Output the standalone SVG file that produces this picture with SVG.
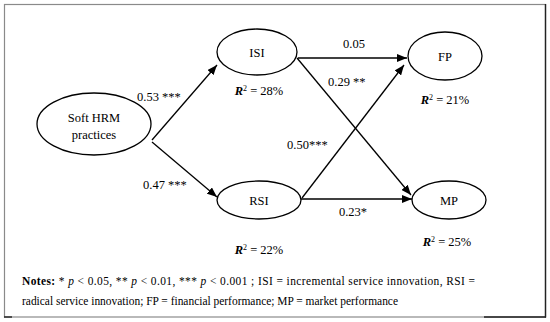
<svg xmlns="http://www.w3.org/2000/svg" width="550" height="322" viewBox="0 0 550 322">
<defs>
<marker id="ah" viewBox="0 0 10 10" refX="10" refY="5" markerWidth="10" markerHeight="8" markerUnits="userSpaceOnUse" orient="auto" preserveAspectRatio="none">
<path d="M0,0 L10,5 L0,10 z" fill="#000"/>
</marker>
<style>
.n{fill:#fff;stroke:#000;stroke-width:1.3}
.t{font-family:"Liberation Serif","Times New Roman",serif;font-size:12.5px;fill:#000}
.c{stroke:#000;stroke-width:1.3;fill:none;marker-end:url(#ah)}
.r{font-weight:bold;font-style:italic}
.nt{font-family:"Liberation Serif","Times New Roman",serif;font-size:11.45px;fill:#000}
</style>
</defs>
<rect x="0" y="0" width="550" height="322" fill="#fff"/>
<g id="frame">
<rect x="4.5" y="4.5" width="541" height="312.5" fill="none" stroke="#8a8a8a" stroke-width="1.2"/>
<line x1="545.5" y1="4" x2="545.5" y2="317.5" stroke="#222" stroke-width="1.4"/>
<line x1="484" y1="317" x2="546" y2="317" stroke="#222" stroke-width="1.4"/>
<line x1="4" y1="317" x2="12" y2="317" stroke="#222" stroke-width="1.4"/>
</g>
<g id="connectors">
<line class="c" x1="152" y1="140" x2="217" y2="65"/>
<line class="c" x1="152" y1="142" x2="217" y2="197"/>
<line class="c" x1="298" y1="58" x2="407" y2="58"/>
<line class="c" x1="297" y1="58" x2="411" y2="195"/>
<line class="c" x1="302" y1="198" x2="404" y2="65"/>
<line class="c" x1="301" y1="199" x2="412" y2="199"/>
<text class="t" x="137" y="101">0.53 ***</text>
<text class="t" x="143" y="189">0.47 ***</text>
<text class="t" x="354" y="48" text-anchor="middle">0.05</text>
<text class="t" x="328" y="86">0.29 **</text>
<text class="t" x="287" y="149">0.50***</text>
<text class="t" x="353" y="216" text-anchor="middle">0.23*</text>
</g>
<g id="soft">
<ellipse class="n" cx="94" cy="124" rx="57" ry="31"/>
<text class="t" x="94" y="122" text-anchor="middle">Soft HRM</text>
<text class="t" x="94" y="139" text-anchor="middle">practices</text>
</g>
<g id="isi">
<ellipse class="n" cx="257" cy="52" rx="40" ry="23"/>
<text class="t" x="257" y="57" text-anchor="middle">ISI</text>
<text class="t" x="259" y="95" text-anchor="middle"><tspan class="r">R</tspan><tspan font-size="8" dy="-4">2</tspan><tspan dy="4"> = 28%</tspan></text>
</g>
<g id="rsi">
<ellipse class="n" cx="259" cy="200" rx="42" ry="19"/>
<text class="t" x="259" y="205" text-anchor="middle">RSI</text>
<text class="t" x="259" y="254" text-anchor="middle"><tspan class="r">R</tspan><tspan font-size="8" dy="-4">2</tspan><tspan dy="4"> = 22%</tspan></text>
</g>
<g id="fp">
<ellipse class="n" cx="445" cy="56" rx="37" ry="24"/>
<text class="t" x="445" y="61" text-anchor="middle">FP</text>
<text class="t" x="445" y="104" text-anchor="middle"><tspan class="r">R</tspan><tspan font-size="8" dy="-4">2</tspan><tspan dy="4"> = 21%</tspan></text>
</g>
<g id="mp">
<ellipse class="n" cx="449" cy="200" rx="37" ry="19"/>
<text class="t" x="449" y="205" text-anchor="middle">MP</text>
<text class="t" x="447" y="246" text-anchor="middle"><tspan class="r">R</tspan><tspan font-size="8" dy="-4">2</tspan><tspan dy="4"> = 25%</tspan></text>
</g>
<g id="notes">
<text class="nt" x="22" y="285" textLength="453" lengthAdjust="spacing"><tspan font-weight="bold">Notes:</tspan> * <tspan font-style="italic">p</tspan> &lt; 0.05, ** <tspan font-style="italic">p</tspan> &lt; 0.01, *** <tspan font-style="italic">p</tspan> &lt; 0.001 ; ISI = incremental service innovation, RSI =</text>
<text class="nt" x="22" y="305">radical service innovation; FP = financial performance; MP = market performance</text>
</g>
</svg>
